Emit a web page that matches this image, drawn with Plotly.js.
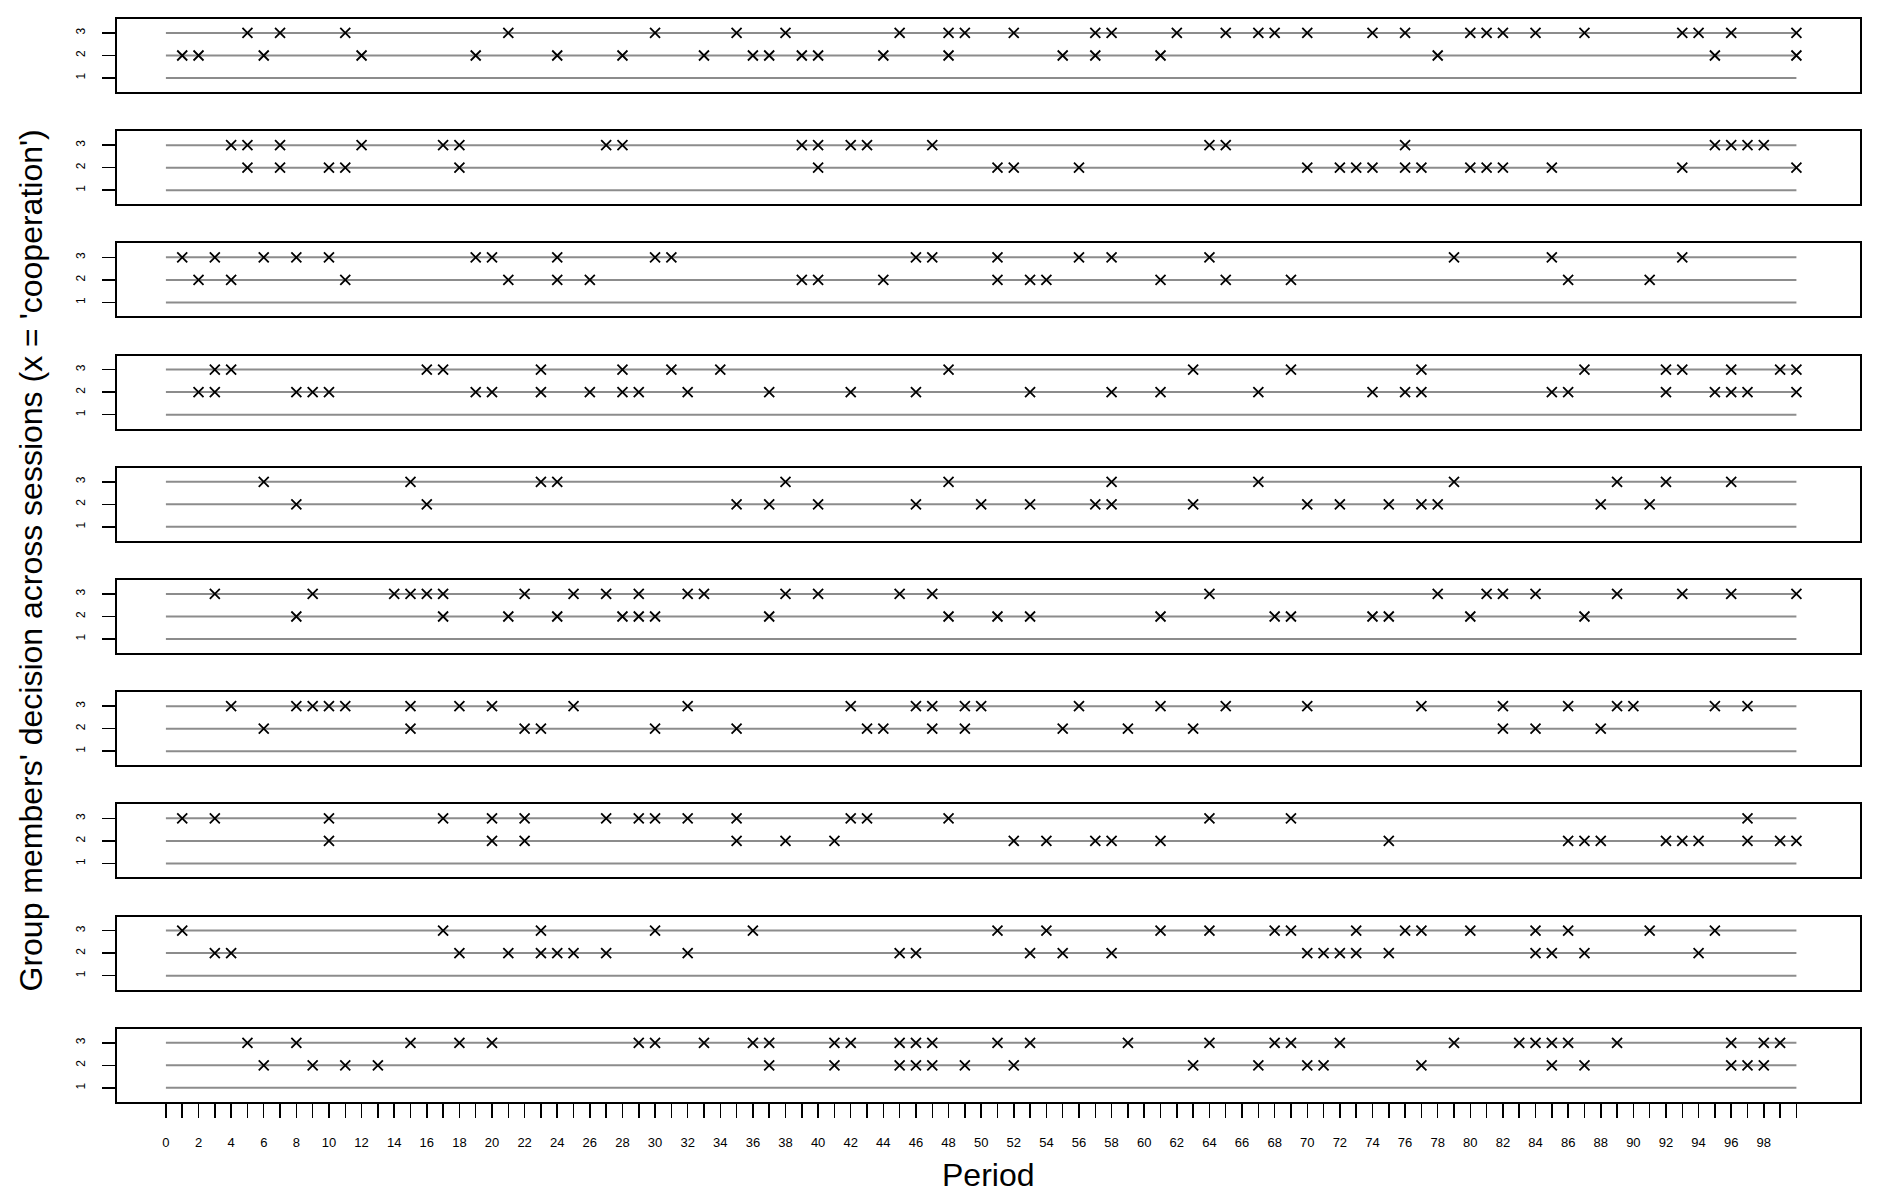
<!DOCTYPE html>
<html><head><meta charset="utf-8">
<script src="https://cdn.plot.ly/plotly-3.0.1.min.js"></script>
<style>html,body{margin:0;padding:0;background:#fff}#chart{width:1900px;height:1200px}</style>
</head><body><div id="chart"></div>
<script>
// ---- data: periods at which a group member chose 'cooperation' (x) on decision rows 2 and 3 ----
const periodTickLabels = [0,2,4,6,8,10,12,14,16,18,20,22,24,26,28,30,32,34,36,38,40,42,44,46,48,50,52,54,56,58,60,62,64,66,68,70,72,74,76,78,80,82,84,86,88,90,92,94,96,98];
const decisionLevels = [1,2,3];
const periodStart = 0, periodEnd = 100;

const s1_row3 = [5,7,11,21,30,35,38,45,48,49,52,57,58,62,65,67,68,70,74,76,80,81,82,84,87,93,94,96,100];
const s1_row2 = [1,2,6,12,19,24,28,33,36,37,39,40,44,48,55,57,61,78,95,100];
const s2_row3 = [4,5,7,12,17,18,27,28,39,40,42,43,47,64,65,76,95,96,97,98];
const s2_row2 = [5,7,10,11,18,40,51,52,56,70,72,73,74,76,77,80,81,82,85,93,100];
const s3_row3 = [1,3,6,8,10,19,20,24,30,31,46,47,51,56,58,64,79,85,93];
const s3_row2 = [2,4,11,21,24,26,39,40,44,51,53,54,61,65,69,86,91];
const s4_row3 = [3,4,16,17,23,28,31,34,48,63,69,77,87,92,93,96,99,100];
const s4_row2 = [2,3,8,9,10,19,20,23,26,28,29,32,37,42,46,53,58,61,67,74,76,77,85,86,92,95,96,97,100];
const s5_row3 = [6,15,23,24,38,48,58,67,79,89,92,96];
const s5_row2 = [8,16,35,37,40,46,50,53,57,58,63,70,72,75,77,78,88,91];
const s6_row3 = [3,9,14,15,16,17,22,25,27,29,32,33,38,40,45,47,64,78,81,82,84,89,93,96,100];
const s6_row2 = [8,17,21,24,28,29,30,37,48,51,53,61,68,69,74,75,80,87];
const s7_row3 = [4,8,9,10,11,15,18,20,25,32,42,46,47,49,50,56,61,65,70,77,82,86,89,90,95,97];
const s7_row2 = [6,15,22,23,30,35,43,44,47,49,55,59,63,82,84,88];
const s8_row3 = [1,3,10,17,20,22,27,29,30,32,35,42,43,48,64,69,97];
const s8_row2 = [10,20,22,35,38,41,52,54,57,58,61,75,86,87,88,92,93,94,97,99,100];
const s9_row3 = [1,17,23,30,36,51,54,61,64,68,69,73,76,77,80,84,86,91,95];
const s9_row2 = [3,4,18,21,23,24,25,27,32,45,46,53,55,58,70,71,72,73,75,84,85,87,94];
const s10_row3 = [5,8,15,18,20,29,30,33,36,37,41,42,45,46,47,51,53,59,64,68,69,72,79,83,84,85,86,89,96,98,99];
const s10_row2 = [6,9,11,13,37,41,45,46,47,49,52,63,67,70,71,77,85,87,96,97,98];

const sessions = [
  [s1_row3, s1_row2],[s2_row3, s2_row2],[s3_row3, s3_row2],[s4_row3, s4_row2],[s5_row3, s5_row2],
  [s6_row3, s6_row2],[s7_row3, s7_row2],[s8_row3, s8_row2],[s9_row3, s9_row2],[s10_row3, s10_row2]
];

// ---- layout geometry ----
const W = 1900, H = 1200;
const mL = 117, mR = 40, mT = 19, mB = 98;
const plotH = H - mT - mB;
const panelStep = 112.2, panelH = 73;
const xRange = [-3.0, 103.9];
const yRange = [0.38, 3.62];
const FONT = 'Liberation Sans, Arial, Helvetica, sans-serif';

const allTicks = [];
for (let v = periodStart; v <= periodEnd; v++) allTicks.push(v);
const allTickText = allTicks.map(v => periodTickLabels.includes(v) ? String(v) : '');

const traces = [];
const layout = {
  width: W, height: H,
  margin: {l: mL, r: mR, t: mT, b: mB},
  paper_bgcolor: '#fff', plot_bgcolor: '#fff',
  showlegend: false, hovermode: false,
  font: {family: FONT, color: '#000'},
  annotations: []
};

sessions.forEach((rows, i) => {
  const n = i + 1;
  const xa = 'x' + (n === 1 ? '' : n), ya = 'y' + (n === 1 ? '' : n);
  const top = i * panelStep, bot = top + panelH;
  const dom = [Math.max(0, 1 - bot / plotH), 1 - top / plotH];
  const isBottom = (i === sessions.length - 1);

  // grey level lines
  const lx = [], ly = [];
  decisionLevels.forEach((lvl, k) => {
    if (k) { lx.push(null); ly.push(null); }
    lx.push(periodStart, periodEnd); ly.push(lvl, lvl);
  });
  traces.push({x: lx, y: ly, xaxis: xa, yaxis: ya, type: 'scatter', mode: 'lines',
    line: {color: '#8c8c8c', width: 2}, hoverinfo: 'skip'});

  [[rows[0], 3], [rows[1], 2]].forEach(([pts, lvl]) => {
    traces.push({x: pts, y: pts.map(() => lvl), xaxis: xa, yaxis: ya, type: 'scatter', mode: 'markers',
      marker: {symbol: 'x-thin-open', size: 10, color: '#000', line: {color: '#000', width: 1.8}},
      hoverinfo: 'skip'});
  });

  layout['xaxis' + (n === 1 ? '' : n)] = {
    domain: [0, 1], anchor: ya, range: xRange, showgrid: false, zeroline: false,
    showline: true, mirror: true, linecolor: '#000', linewidth: 2,
    ticks: isBottom ? 'outside' : '', ticklen: 14, tickwidth: 1.5, tickcolor: '#000',
    tickmode: 'array', tickvals: allTicks, ticktext: allTickText,
    showticklabels: isBottom, tickfont: {size: 13, family: FONT, color: '#000'},
    ticklabelstandoff: 14, fixedrange: true
  };
  layout['yaxis' + (n === 1 ? '' : n)] = {
    domain: dom, anchor: xa, range: yRange, showgrid: false, zeroline: false,
    showline: true, mirror: true, linecolor: '#000', linewidth: 2,
    ticks: 'outside', ticklen: 13, tickwidth: 1.5, tickcolor: '#000',
    tickmode: 'array', tickvals: decisionLevels, ticktext: decisionLevels.map(String),
    tickangle: -90, tickfont: {size: 12, family: FONT, color: '#000'},
    ticklabelstandoff: 12, fixedrange: true
  };
});

const plotW = W - mL - mR;
layout.annotations.push({
  text: "Group members' decision across sessions (x = 'cooperation')",
  xref: 'paper', yref: 'paper', x: (30 - mL) / plotW, y: 0.5,
  xanchor: 'center', yanchor: 'middle', textangle: -90, showarrow: false,
  font: {size: 32, family: FONT, color: '#000'}
});
layout.annotations.push({
  text: 'Period', xref: 'paper', yref: 'paper', x: 0.5, y: -73 / plotH,
  xanchor: 'center', yanchor: 'middle', showarrow: false,
  font: {size: 32, family: FONT, color: '#000'}
});

Plotly.newPlot('chart', traces, layout, {staticPlot: true, displayModeBar: false});
</script></body></html>
